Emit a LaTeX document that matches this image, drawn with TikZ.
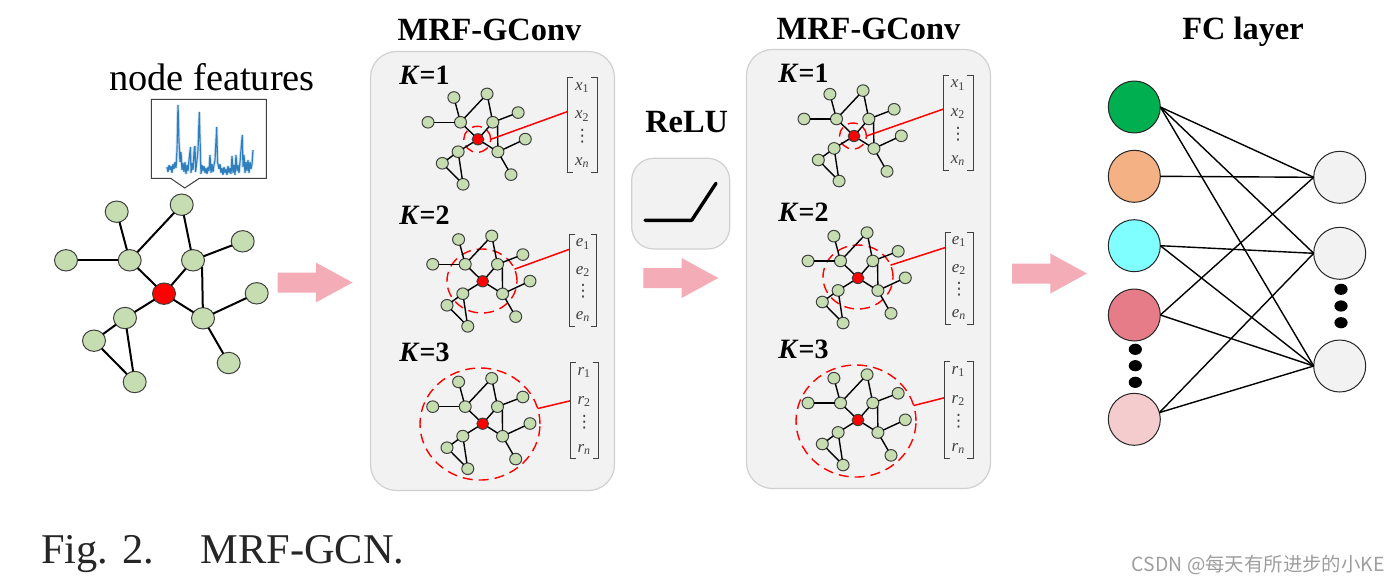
\documentclass[tikz,border=0pt]{standalone}
\usepackage{fontspec}
\setmainfont{Liberation Serif}
\newfontfamily\cjkfont{Noto Sans CJK SC}
\newfontfamily\symfont{DejaVu Sans}
\usetikzlibrary{shapes.geometric, positioning, fit, calc}

\definecolor{leafgreen}{HTML}{C5DDB0}
\definecolor{panelgray}{HTML}{F2F2F2}
\definecolor{panelline}{HTML}{D0D0D0}
\definecolor{flowpink}{HTML}{F4ACB7}
\definecolor{sigblue}{HTML}{2F7FBF}
\definecolor{fcgreen}{HTML}{00B050}
\definecolor{fcorange}{HTML}{F4B183}
\definecolor{fccyan}{HTML}{7FFFFF}
\definecolor{fcrose}{HTML}{E67C88}
\definecolor{fcpink}{HTML}{F5CCCE}

\tikzset{
    graphlet/.pic={
        \node[hub] (hub) at (0,0) {};
        \foreach \n/\px/\py in {1/-47.3/-82, 2/17.7/-89, 3/-98/-33.4, 4/-34.3/-33.4,
                5/29/-33.4, 6/78.7/-52.4, 7/92.7/-0.4, 8/-39/24.3, 9/39/24.6,
                10/-70/47, 11/-29.3/88.3, 12/64.7/69.3}
            \node[leaf] (n\n) at (\px,\py) {};
        \foreach \a/\b in {n1/n4, n2/n4, n2/n5, n3/n4, n4/hub, n5/hub, n5/n6, n5.-36/n9,
                hub/n8, hub/n9, n9/n7, n9/n12, n8/n10, n8/n11, n10/n11}
            \draw[graphedge] (\a) -- (\b);
    },
    flowarrow/.pic={
        \fill[flowpink] (-37.5,-10) -- (0.8,-10) -- (0.8,-20) -- (37.5,0) -- (0.8,20) -- (0.8,10) -- (-37.5,10) -- cycle;
    }
}

\begin{document}
\begin{tikzpicture}[
    x=0.5pt, y=-0.5pt,
    leaf/.style={
        ellipse, draw=black!75, line width=0.5pt, fill=leafgreen, inner sep=0pt,
        outer sep=0pt, minimum width=11.5pt, minimum height=10.7pt
    },
    hub/.style={leaf, fill=red},
    graphedge/.style={draw=black, line width=1pt},
    panel/.style={
        rectangle, rounded corners=13pt, draw=panelline, line width=0.6pt,
        fill=panelgray, inner sep=0pt
    },
    headlabel/.style={font=\fontsize{16.2}{18}\selectfont\bfseries, inner sep=0pt},
    klabel/.style={font=\fontsize{14}{16}\selectfont\bfseries, anchor=west, inner sep=0pt},
    zone/.style={ellipse, draw=red, dashed, dash pattern=on 5pt off 3pt, line width=0.7pt, inner sep=0pt, outer sep=0pt},
    vecbox/.style={rectangle, inner sep=0pt, outer sep=0pt},
    vecline/.style={draw=black!75, line width=0.45pt},
    vecentry/.style={font=\fontsize{8.5}{9}\selectfont, text=black!75, inner sep=0pt},
    zoneline/.style={draw=red, line width=0.75pt},
    fcnode/.style={circle, draw=black!85, line width=0.5pt, inner sep=0pt, outer sep=0pt, minimum size=26pt, fill=#1},
    fcedge/.style={draw=black, line width=0.7pt},
    morenode/.style={ellipse, fill=black, inner sep=0pt, minimum width=6.6pt, minimum height=5.6pt}
]
\useasboundingbox (0,0) rectangle (1400,584);

% Input graph and its features
\node[font=\fontsize{19.2}{22}\selectfont, inner sep=0pt] (features) at (212,77) {node features};
\draw[draw=black!75, line width=0.5pt, fill=white] (151.3,99.3) -- (266.3,99.3) -- (266.3,178.3) -- (199.3,178.3)
    -- (184.7,188) -- (170.7,178.3) -- (151.3,178.3) -- cycle;
\draw[draw=sigblue, line width=0.6pt, line join=bevel, preaction={draw=sigblue!45, line width=1.5pt, line join=bevel, opacity=0.5}] plot coordinates {
    (167,167)(168,172)(169,165)(170,170)(171,166)(172,173)(173,164)(174,169)(175,162)(176,168)(177,150)(178,105)
    (179,142)(180,162)(181,152)(182,170)(183,163)(184,172)(185,162)(186,174)(187,165)(188,171)(189,160)(190.5,147)
    (191,173)(192,163)(193,170)(194.3,148)(195,146)(195.6,172)(197,160)(198,150)(199.3,112)(200.5,157)(201,174)
    (202,165)(203,171)(204,166)(205,173)(206,168)(207,174)(208,167)(209,171)(210,155)(211,173)(212,164)(213,172)
    (214,165)(215,160)(216.7,127)(217.5,162)(219,169)(220,164)(221,173)(222,168)(223,175)(224,167)(225,173)
    (226,169)(227,175)(228,166)(229,173)(230,168)(231,174)(232,156)(233,173)(234,165)(235,175)(236,155)(237,171)
    (238,165)(239,173)(240,162)(241,150)(242.3,135)(243,167)(244,155)(245,173)(246,162)(247,171)(248,160)(249,173)
    (250,162)(251,169)(252,164)(253,150)};
\pic (gbig) at (164,293.7) {graphlet};

% Flow arrows
\pic (fa) at (315,282.5) {flowarrow};
\pic (fb) at (680.8,278) {flowarrow};
\pic (fc) at (1049.5,273.5) {flowarrow};

% MRF-GConv panels
\node[panel, fit={(370.5,51.5) (614.5,490.5)}] (pa) {};
\node[panel, fit={(746.5,49.5) (990.5,488.5)}] (pb) {};
\node[headlabel, above=5pt of pa, xshift=-1.5pt] (ta) {MRF-GConv};
\node[headlabel, above=4.5pt of pb] (tb) {MRF-GConv};

% One row per K: label, hub, zone, vector
\foreach \id/\kval/\kx/\ky/\hx/\hy/\cx/\cy/\rx/\ry/\ml/\mt/\mr/\mb/\sym/\lf/\la in {
    a/1/399/75.7/478/139.3/477.3/139.3/27/26/567.3/77.7/597.3/172/x/.36/0,
    b/2/399/215.7/482.7/281.3/482/281/70/64/569.3/234.3/596.7/326/e/.164/20,
    c/3/399/352.3/482.7/423.7/480/424/120/112/570/362.3/598.7/458.7/r/.40/15,
    d/1/778/73/854/136/853/136/27/26/943/75/973/170/x/.36/0,
    e/2/778/212/858/278/858/277/70/64/945/232/973/324/e/.17/20,
    f/3/778/349/858/420/856/421/120/112/944/361/973/458/r/.38/15}
{
    \node[klabel] (k\id) at (\kx,\ky) {\textit{K}=\kval};
    \node[zone, minimum width=0.5*\rx pt, minimum height=0.5*\ry pt] (c\id) at (\cx,\cy) {};
    \pic[scale=0.51, leaf/.append style={minimum width=6pt, minimum height=5.8pt},
        hub/.append style={minimum width=5.8pt, minimum height=5.6pt},
        graphedge/.append style={line width=0.7pt}] (g\id) at (\hx,\hy) {graphlet};
    \node[vecbox, fit={(\ml,\mt) (\mr,\mb)}] (v\id) {};
    \draw[vecline] ($(v\id.north west)+(6,0)$) -- (v\id.north west) -- (v\id.south west) -- +(6,0);
    \draw[vecline] ($(v\id.north east)+(-6,0)$) -- (v\id.north east) -- (v\id.south east) -- +(-6,0);
    \node[vecentry] (v\id p) at ($(v\id.north)!.106!(v\id.south)$) {\textit{\sym}\textsubscript{1}};
    \node[vecentry] (v\id q) at ($(v\id.north)!.406!(v\id.south)$) {\textit{\sym}\textsubscript{2}};
    \node[vecentry] (v\id r) at ($(v\id.north)!.62!(v\id.south)$) {\symfont ⋮};
    \node[vecentry] (v\id s) at ($(v\id.north)!.90!(v\id.south)$) {\textit{\sym}\textsubscript{\textit{n}}};
    \draw[zoneline] ($(v\id.north west)!\lf!(v\id.south west)$) -- (c\id.\la);
}

% ReLU
\node[panel, rounded corners=11pt, fit={(631.7,158.3) (729.7,249)}] (relu) {};
\node[headlabel, above=12.5pt of relu, xshift=3pt] (trelu) {ReLU};
\draw[line width=1.7pt, line cap=round, line join=round] (645,220.3) -- (691.7,220.3) -- (716,183.3);

% FC layer
\node[headlabel] (tfc) at (1243,32) {FC layer};
\node[fcnode=fcgreen] (i1) at (1134.3,107) {};
\node[fcnode=fcorange] (i2) at (1134.3,176.3) {};
\node[fcnode=fccyan] (i3) at (1134.3,245.7) {};
\node[fcnode=fcrose] (i4) at (1134.3,315) {};
\node[fcnode=fcpink] (i5) at (1134.3,419.3) {};
\node[fcnode=panelgray] (o1) at (1339.7,177.3) {};
\node[fcnode=panelgray] (o2) at (1339.7,253.3) {};
\node[fcnode=panelgray] (o3) at (1339.7,366) {};
\foreach \a/\b in {i1.east/o1.west, i1.east/o2.west, i1.east/o3.west, i2.east/o1.west,
        i3.east/o2.west, i3.east/o3.west, i4.east/o1.west, i4.east/o3.west,
        i5.15/o2.west, i5.15/o3.west}
    \draw[fcedge] (\a) -- (\b);
\foreach \id/\py in {a/349.3, b/365.7, c/382.3}
    \node[morenode] (mi\id) at (1135.3,\py) {};
\foreach \id/\py in {a/289.3, b/306, c/322.7}
    \node[morenode] (mo\id) at (1341,\py) {};

% Caption and mark
\node[font=\fontsize{21.2}{24}\selectfont, text=black!85, anchor=west, inner sep=0pt] (cap) at (41,554) {Fig. 2.\hspace{23pt}MRF-GCN.};
\node[font=\cjkfont\fontsize{9.7}{11}\selectfont, text=black!38, anchor=east, inner sep=0pt] (mark) at (1385,565) {CSDN @每天有所进步的小KE};

\end{tikzpicture}
\end{document}
